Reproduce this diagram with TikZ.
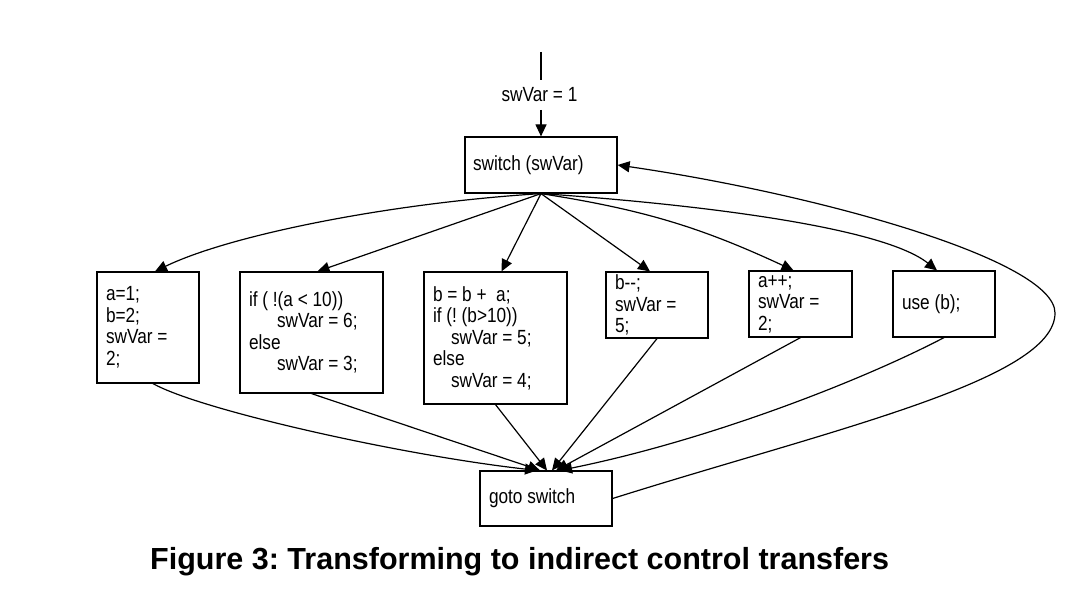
\documentclass[tikz,border=0pt]{standalone}
\usepackage{fontspec}
\usetikzlibrary{arrows.meta}
\newfontfamily\boxfont[FakeStretch=0.84]{Liberation Sans}
\newfontfamily\capfont{Liberation Sans}
\frenchspacing
\begin{document}
\begin{tikzpicture}[x=1pt,y=1pt,
  box/.style={draw, line width=1.2pt, rectangle, inner xsep=9pt, inner ysep=0pt, align=flush left,
    font=\boxfont\fontsize{20.5}{21.5}\selectfont},
  arr/.style={line width=1.2pt, -{Triangle[length=12pt,width=11pt]}},
  ln/.style={line width=1.2pt}]
\useasboundingbox (0,0) rectangle (1091,-596);

\coordinate (top) at (541,-52);
\node[font=\boxfont\fontsize{20.5}{21.5}\selectfont, inner xsep=2pt, inner ysep=7.5pt] (lbl) at (539.5,-95) {swVar = 1};
\node[box, inner xsep=8pt, minimum width=152pt, minimum height=56pt, text width=136pt] (switch) at (541,-165) {switch (swVar)};

\node[box, minimum width=102pt, minimum height=111pt, text width=84pt] (b1) at (148,-327.5) {a=1;\\b=2;\\swVar =\\2;};
\node[box, minimum width=143pt, minimum height=121pt, text width=125pt] (b2) at (311.5,-332.5) {if ( !(a < 10))\\\hspace*{28pt}swVar = 6;\\else\\\hspace*{28pt}swVar = 3;};
\node[box, minimum width=143pt, minimum height=132pt, text width=125pt] (b3) at (495.5,-338) {b = b + \ a;\\if (! (b>10))\\\hspace*{18pt}swVar = 5;\\else\\\hspace*{18pt}swVar = 4;};
\node[box, minimum width=102pt, minimum height=66pt, text width=84pt] (b4) at (657,-305) {b-{}-;\\swVar =\\5;};
\node[box, minimum width=103pt, minimum height=66pt, text width=85pt] (b5) at (800.5,-304) {a++;\\swVar =\\2;};
\node[box, minimum width=102pt, minimum height=66pt, text width=84pt] (b6) at (944,-304) {use (b);};
\node[box, minimum width=132pt, minimum height=55pt, text width=114pt] (goto) at (546,-498.5) {goto switch};

\node[anchor=base west, inner sep=0pt, font=\capfont\bfseries\fontsize{30.5}{31}\selectfont] (cap) at (150,-569) {Figure 3: Transforming to indirect control transfers};

% entry
\draw[ln] (top) -- (top |- lbl.north);
\draw[arr] (top |- lbl.south) -- (switch.north);

% switch to cases
\draw[arr] (switch.south) .. controls (390,-203) and (230,-235) .. ([xshift=7pt]b1.north);
\draw[arr] (switch.south) -- ([xshift=6pt]b2.north);
\draw[arr] (switch.south) -- ([xshift=6pt]b3.north);
\draw[arr] (switch.south) -- ([xshift=-7pt]b4.north);
\draw[arr] (switch.south) to[bend left=8] ([xshift=-7pt]b5.north);
\draw[arr] (switch.south) .. controls (680,-203) and (880,-225) .. ([xshift=-7pt]b6.north);

% cases to goto
\draw[arr] ([xshift=5pt]b1.south) .. controls (200,-410) and (400,-455) .. ([xshift=-9pt]goto.north);
\draw[arr] (b2.south) -- ([xshift=-6pt]goto.north);
\draw[arr] (b3.south) -- ([xshift=1pt]goto.north);
\draw[arr] (b4.south) -- ([xshift=6pt]goto.north);
\draw[arr] (b5.south) -- ([xshift=10pt]goto.north);
\draw[arr] (b6.south) .. controls (863,-380) and (710,-440) .. ([xshift=14pt]goto.north);

% back edge
\draw[arr] (goto.east) .. controls (830,-430) and (1055,-380) .. (1055,-313) .. controls (1055,-260) and (817,-194) .. (switch.east);
\end{tikzpicture}
\end{document}
